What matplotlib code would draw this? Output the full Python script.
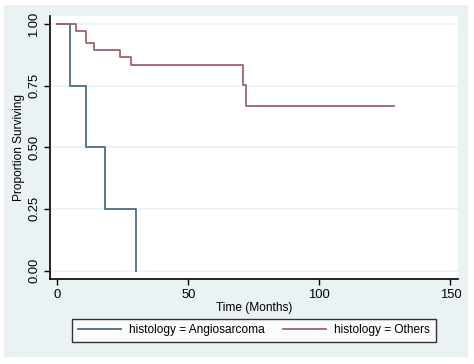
import matplotlib
matplotlib.use("Agg")
import matplotlib.pyplot as plt
from matplotlib.patches import Rectangle

plt.rcParams['font.family'] = ['Liberation Sans', 'DejaVu Sans']

# Kaplan-Meier step data (time in months, survival proportion)
angio_t = [0, 5, 11, 18, 30]
angio_s = [1.0, 0.75, 0.50, 0.25, 0.0]
others_t = [0, 7, 11, 14, 24, 28, 71, 72, 128.5]
others_s = [1.0, 0.972, 0.923, 0.896, 0.867, 0.835, 0.751, 0.668, 0.668]

xticks = [0, 50, 100, 150]
yticks = [0.0, 0.25, 0.5, 0.75, 1.0]
ytick_labels = ["0.00", "0.25", "0.50", "0.75", "1.00"]

W, H = 474, 364
FS = 8.6
fig = plt.figure(figsize=(W / 100, H / 100), dpi=100, facecolor='white')

# light Stata-like graph region behind everything
bg = fig.add_axes([0, 0, 1, 1], zorder=-1)
bg.axis('off')
bg.add_patch(Rectangle((4 / W, 1 - 357 / H), 464 / W, 352 / H,
                       transform=fig.transFigure, facecolor='#EAF2F3',
                       edgecolor='none'))

ax = fig.add_axes([50 / W, 1 - 279 / H, 408 / W, 263 / H], zorder=1)
ax.set_facecolor('white')

ax.step(angio_t, angio_s, where='post', color='#4A6E82', lw=1.3,
        label='histology = Angiosarcoma')
ax.step(others_t, others_s, where='post', color='#9C6468', lw=1.3,
        label='histology = Others')

ax.set_xlim(-2.8, 152.9)
ax.set_ylim(-0.034, 1.032)
ax.set_xticks(xticks)
ax.set_yticks(yticks)
ax.set_yticklabels(ytick_labels, rotation=90, va='center')
ax.grid(axis='y', color='#EAF2F3', lw=1.2)
ax.set_axisbelow(True)

for s in ['top', 'right']:
    ax.spines[s].set_visible(False)
for s in ['left', 'bottom']:
    ax.spines[s].set_color('black')
    ax.spines[s].set_linewidth(1.2)
ax.tick_params(direction='out', length=4, width=1, labelsize=FS + 0.8, pad=3)

ax.set_xlabel('Time (Months)', fontsize=FS, labelpad=1)
ax.set_ylabel('Proportion Surviving', fontsize=FS, labelpad=2)

leg = fig.legend(loc='center', bbox_to_anchor=(254 / W, 1 - 330.5 / H), ncol=2,
                 fontsize=FS, frameon=True, fancybox=False, edgecolor='black',
                 handlelength=3.6, handletextpad=0.6, columnspacing=1.6,
                 borderpad=0.5)
leg.get_frame().set_linewidth(1.0)

fig.savefig('out.png', dpi=100, facecolor='white')
